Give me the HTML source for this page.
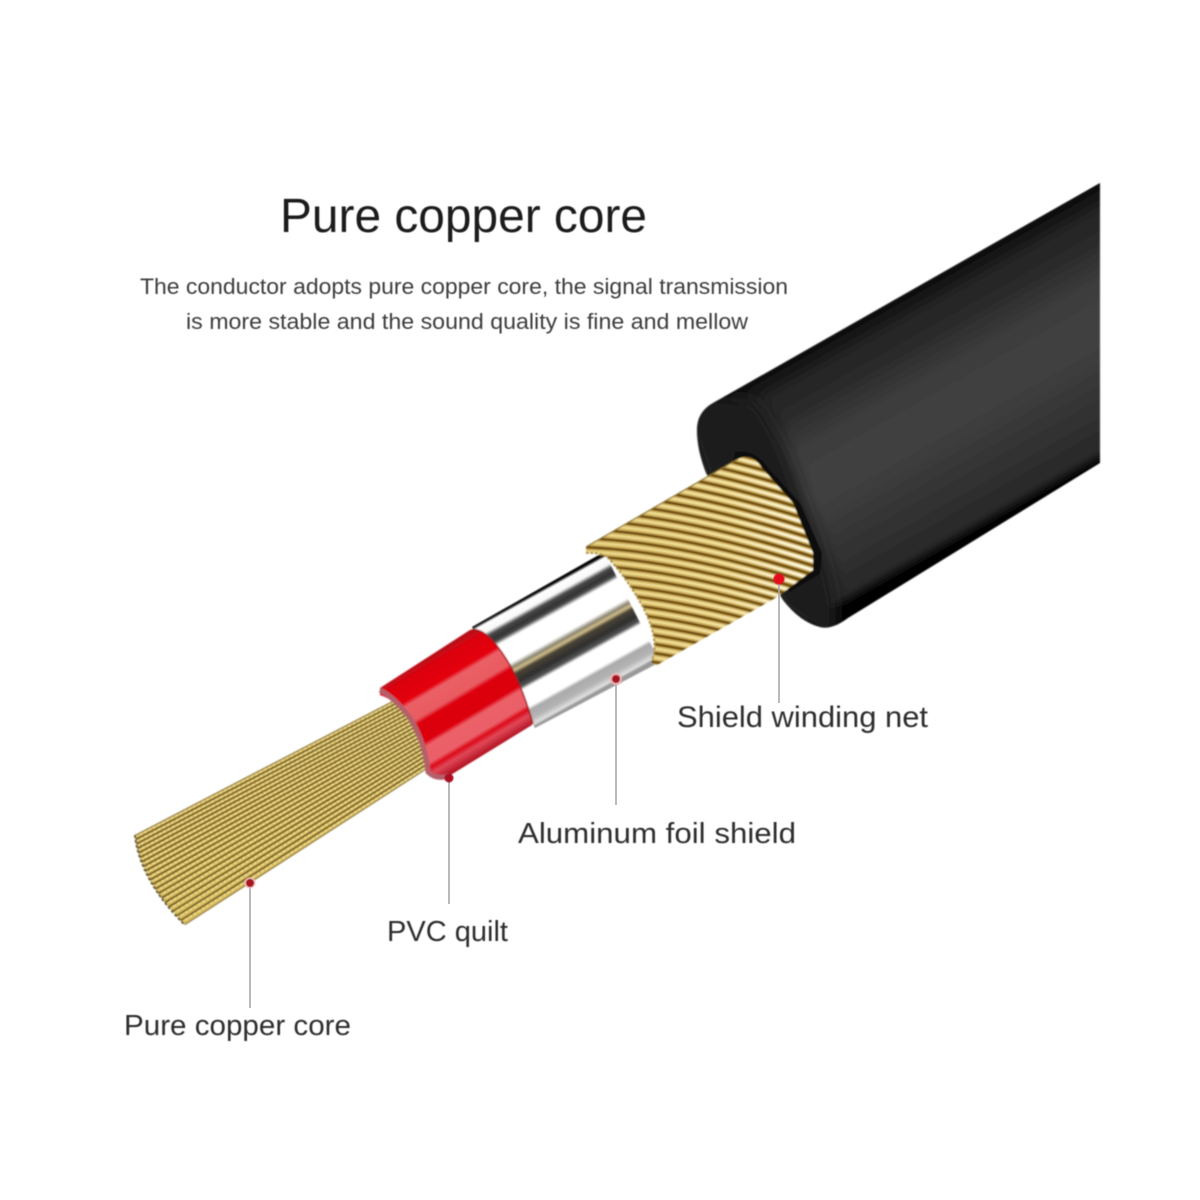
<!DOCTYPE html>
<html><head><meta charset="utf-8"><style>
html,body{margin:0;padding:0;background:#fff}
svg{display:block}
text{font-family:"Liberation Sans",sans-serif}
</style></head><body>
<svg width="1200" height="1200" viewBox="0 0 1200 1200" xmlns="http://www.w3.org/2000/svg">
<defs>
<filter id="b" x="-5%" y="-5%" width="110%" height="110%"><feGaussianBlur stdDeviation="0.8"/></filter>
<filter id="t" x="-5%" y="-20%" width="110%" height="140%"><feGaussianBlur stdDeviation="0.55"/></filter>
<filter id="s" x="-30%" y="-30%" width="160%" height="160%"><feGaussianBlur stdDeviation="7"/></filter>
<linearGradient id="jk" gradientUnits="userSpaceOnUse" x1="900" y1="296" x2="1019" y2="507">
<stop offset="0" stop-color="#050505"/><stop offset=".025" stop-color="#111"/><stop offset=".1" stop-color="#242424"/><stop offset=".2" stop-color="#2a2a2a"/><stop offset=".36" stop-color="#3d3d3d"/><stop offset=".55" stop-color="#414141"/><stop offset=".78" stop-color="#333"/><stop offset=".96" stop-color="#282828"/><stop offset="1" stop-color="#060606"/>
</linearGradient>
<linearGradient id="foil" gradientUnits="userSpaceOnUse" x1="516" y1="602" x2="573" y2="705">
<stop offset="0" stop-color="#000"/><stop offset=".02" stop-color="#111"/><stop offset=".035" stop-color="#fff"/><stop offset=".1" stop-color="#f8f8f8"/><stop offset=".135" stop-color="#4a4a4a"/><stop offset=".18" stop-color="#333"/><stop offset=".21" stop-color="#4a4a4a"/><stop offset=".245" stop-color="#fff"/><stop offset=".43" stop-color="#fff"/><stop offset=".47" stop-color="#8a8470"/><stop offset=".5" stop-color="#cdbb88"/><stop offset=".53" stop-color="#4a4436"/><stop offset=".6" stop-color="#2e2e2e"/><stop offset=".65" stop-color="#555"/><stop offset=".68" stop-color="#fff"/><stop offset=".83" stop-color="#fff"/><stop offset=".86" stop-color="#aaa"/><stop offset=".93" stop-color="#b4b4b4"/><stop offset=".98" stop-color="#e0e0e0"/><stop offset="1" stop-color="#999"/>
</linearGradient>
<linearGradient id="red" gradientUnits="userSpaceOnUse" x1="425" y1="660" x2="482" y2="756">
<stop offset="0" stop-color="#b80c18"/><stop offset=".06" stop-color="#dc0410"/><stop offset=".23" stop-color="#e4000e"/><stop offset=".27" stop-color="#ea6066"/><stop offset=".42" stop-color="#e85a60"/><stop offset=".46" stop-color="#dc0010"/><stop offset=".63" stop-color="#dc0010"/><stop offset=".67" stop-color="#ec6068"/><stop offset=".81" stop-color="#ea6068"/><stop offset=".85" stop-color="#dc0818"/><stop offset=".9" stop-color="#e04858"/><stop offset="1" stop-color="#b01020"/>
</linearGradient>
<linearGradient id="hl" gradientUnits="userSpaceOnUse" x1="600" y1="0" x2="810" y2="0">
<stop offset="0" stop-color="#e8d486"/><stop offset=".6" stop-color="#f2e2a0"/><stop offset="1" stop-color="#fffbe6"/>
</linearGradient>
<path id="core" d="M135,835L410,692 M135.6,839.5L412,695.1 M136.4,844L414,698.2 M137.4,848.5L416,701.3 M138.6,853L418,704.4 M140,857.5L420,707.5 M141.6,862L422,710.6 M143.4,866.5L424,713.7 M145.4,871L426,716.8 M147.6,875.5L428,719.9 M150,880L430,723 M152.6,884.5L432,726.1 M155.4,889L434,729.2 M158.4,893.5L436,732.3 M161.6,898L438,735.4 M165,902.5L440,738.5 M168.6,907L442,741.6 M172.4,911.5L444,744.7 M176.4,916L446,747.8 M180.6,920.5L448,750.9 M185,925L450,754"/>
<path id="strands" d="M580,430q100,3 240,48 M580,439q100,3 240,48 M580,448q100,3 240,48 M580,457q100,3 240,48 M580,466q100,3 240,48 M580,475q100,3 240,48 M580,484q100,3 240,48 M580,493q100,3 240,48 M580,502q100,3 240,48 M580,511q100,3 240,48 M580,520q100,3 240,48 M580,529q100,3 240,48 M580,538q100,3 240,48 M580,547q100,3 240,48 M580,556q100,3 240,48 M580,565q100,3 240,48 M580,574q100,3 240,48 M580,583q100,3 240,48 M580,592q100,3 240,48 M580,601q100,3 240,48 M580,610q100,3 240,48 M580,619q100,3 240,48 M580,628q100,3 240,48 M580,637q100,3 240,48 M580,646q100,3 240,48 M580,655q100,3 240,48 M580,664q100,3 240,48"/>
<clipPath id="cg"><path d="M586,547 L738,459 Q752,452 762,468 L793,503 L813,553 L813,570 L777,597 L657,665 Q650,664 652,660 Q660,640 643,607 Q625,575 607,557 Q598,552 586,553 Z"/></clipPath>
<clipPath id="cj"><path d="M1100,183 L713,403 Q697,412 697,430 Q697,450 706,473 L783,600 Q800,622 820,627 Q832,630 848,618 L1100,463 Z"/></clipPath>
<clipPath id="cc"><path d="M410,692 L135,835 Q140,880 185,925 L450,754 Z"/></clipPath>
</defs>
<rect width="1200" height="1200" fill="#fff"/>

<g filter="url(#b)">
<!-- copper core -->
<path d="M410,692 L135,835 Q140,880 185,925 L450,754 Z" fill="#d8bc5e"/>
<g clip-path="url(#cc)" fill="none">
<use href="#core" stroke="#6e5212" stroke-width="1.9"/>
<use href="#core" stroke="#f4e494" stroke-width="1.5" stroke-dasharray="3.5 1.5" transform="translate(0 2.3)"/>
</g>
<path d="M135,835 Q140,880 185,925" fill="none" stroke="#5c4c20" stroke-width="2" stroke-dasharray="3 2"/>

<!-- foil -->
<path d="M472,627 L604,552 L660,662 L535,728 Z" fill="url(#foil)"/>

<!-- red sleeve -->
<path d="M380,688 L470,630 Q478,628 490,638 Q515,665 532,722 L532,725 L449,776 Q435,780 427,772 Q425,740 410,718 Q395,700 380,695Z" fill="url(#red)"/>
<path d="M472,630 Q480,628 492,640 Q517,667 533,724" fill="none" stroke="#a8141c" stroke-width="1.6"/>
<path d="M380,690 Q395,698 410,718 Q425,742 428,772 Q436,780 449,776" fill="none" stroke="#b4606a" stroke-width="5"/>

<!-- jacket -->
<path d="M1100,183 L713,403 Q697,412 697,430 Q697,450 706,473 L783,600 Q800,622 820,627 Q832,630 848,618 L1100,463 Z" fill="url(#jk)"/>
<g clip-path="url(#cj)">
<path d="M700,395 L690,430 L706,480 L783,610 L830,640 Q850,610 800,490 Q785,440 755,400 Z" fill="#1c1c1c" filter="url(#s)"/>
</g>
<path d="M735,452 Q755,448 768,468 L800,503 L822,553 L820,574 L790,592 L720,540 Z" fill="#070707"/>

<!-- braid -->
<path d="M586,547 L738,459 Q752,452 762,468 L793,503 L813,553 L813,570 L777,597 L657,665 Q650,664 652,660 Q660,640 643,607 Q625,575 607,557 Q598,552 586,553 Z" fill="#cfae58"/>
<g clip-path="url(#cg)" fill="none">
<use href="#strands" stroke="#6e4e0c" stroke-width="2.8"/>
<use href="#strands" stroke="url(#hl)" stroke-width="2.8" transform="translate(0 4.4)"/>
</g>
<path d="M586,547 L738,459" stroke="#8c7430" stroke-width="1.2" fill="none"/>
<path d="M586,553 Q598,552 607,557 Q625,575 643,607 Q660,640 652,660" stroke="#a88c40" stroke-width="2" stroke-dasharray="2.5 2" fill="none"/>
</g>

<!-- leaders -->
<g stroke="#a9a9a9" stroke-width="1.6" fill="none">
<path d="M779,580V703"/><path d="M616,680V805"/><path d="M449,778V904"/><path d="M250,884V1008"/>
</g>
<g filter="url(#t)">
<circle cx="779" cy="579" r="5.5" fill="#e4101e"/>
<circle cx="616" cy="679" r="6" fill="#f0b0b0"/><circle cx="616" cy="679" r="4" fill="#a01424"/>
<circle cx="449" cy="778" r="4.5" fill="#b01020"/>
<circle cx="250" cy="883" r="5.5" fill="#f4c8c8"/><circle cx="250" cy="883" r="4.2" fill="#a81424"/>
</g>

<!-- text -->
<g filter="url(#t)">
<text x="280" y="232" font-size="48" fill="#1c1c1c" textLength="367" lengthAdjust="spacingAndGlyphs">Pure copper core</text>
<text x="140" y="294" font-size="22" fill="#3c3c3c" textLength="648" lengthAdjust="spacingAndGlyphs">The conductor adopts pure copper core, the signal transmission</text>
<text x="186" y="329" font-size="22" fill="#3c3c3c" textLength="562" lengthAdjust="spacingAndGlyphs">is more stable and the sound quality is fine and mellow</text>
<text x="677" y="727" font-size="30" fill="#2e2e2e" textLength="251" lengthAdjust="spacingAndGlyphs">Shield winding net</text>
<text x="518" y="843" font-size="29" fill="#2e2e2e" textLength="278" lengthAdjust="spacingAndGlyphs">Aluminum foil shield</text>
<text x="387" y="941" font-size="29" fill="#2e2e2e" textLength="121" lengthAdjust="spacingAndGlyphs">PVC quilt</text>
<text x="124" y="1035" font-size="29" fill="#2e2e2e" textLength="227" lengthAdjust="spacingAndGlyphs">Pure copper core</text>
</g>
</svg>
</body></html>
